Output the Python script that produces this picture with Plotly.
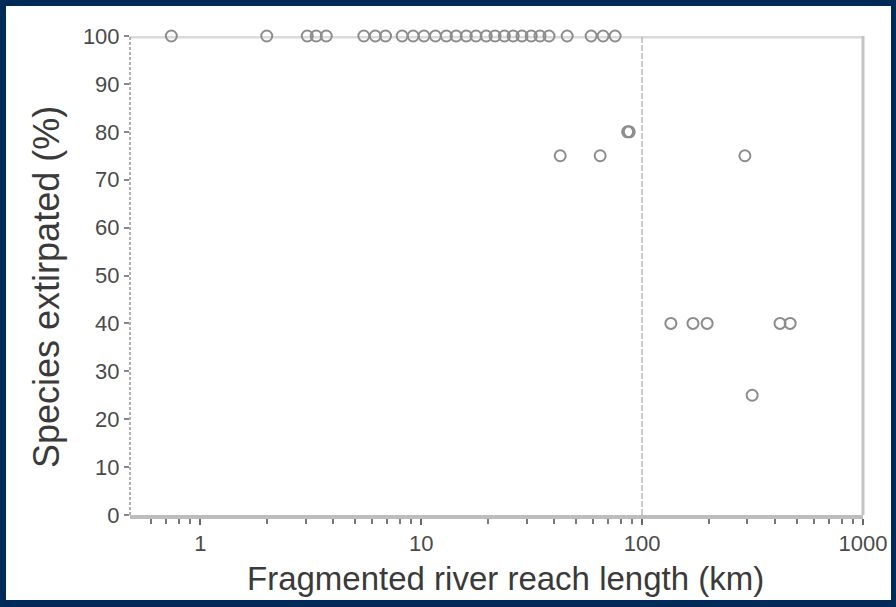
import plotly.graph_objects as go

# Data
x_full = [0.74, 2.0, 3.05, 3.35, 3.72, 5.5, 6.2, 6.9, 8.2, 9.2, 10.3, 11.6, 13.0, 14.4,
          16.0, 17.7, 19.7, 21.6, 23.8, 26.1, 28.6, 31.5, 34.5, 37.9, 45.8, 58.8, 66.6, 75.5]
y_full = [100] * len(x_full)
x_part = [42.6, 64.6, 86.0, 87.5, 292, 135, 170, 197, 421, 468, 315]
y_part = [75, 75, 80, 80, 75, 40, 40, 40, 40, 40, 25]

x_tickvals = [1, 10, 100, 1000]
x_ticktext = ["1", "10", "100", "1000"]
x_minorvals = [0.6, 0.7, 0.8, 0.9, 2, 3, 4, 5, 6, 7, 8, 9,
               20, 30, 40, 50, 60, 70, 80, 90, 200, 300, 400, 500, 600, 700, 800, 900]
y_tickvals = [0, 10, 20, 30, 40, 50, 60, 70, 80, 90, 100]
threshold_km = 100
x_title = "Fragmented river reach length (km)"
y_title = "Species extirpated (%)"

xs = x_full + x_part
ys = y_full + y_part

fig = go.Figure()
fig.add_trace(go.Scatter(
    x=xs, y=ys, mode="markers",
    marker=dict(symbol="circle-open", size=11, color="#8c8c8c", line=dict(width=2, color="#8c8c8c")),
    cliponaxis=False, showlegend=False,
))

navy = "#002a58"
pw, ph = 733.0, 479.0  # plot area size in px
shapes = [
    # white panel
    dict(type="rect", xref="paper", yref="paper",
         x0=-124 / pw, x1=1 + 28 / pw, y0=-85 / ph, y1=1 + 30 / ph,
         fillcolor="white", line=dict(width=0), layer="below"),
    # top border
    dict(type="line", xref="paper", yref="y", x0=0, x1=1, y0=100, y1=100,
         line=dict(color="#dadada", width=5), layer="below"),
    # right border
    dict(type="line", xref="paper", yref="paper", x0=1, x1=1, y0=0, y1=1,
         line=dict(color="#c4c4c4", width=3), layer="below"),
    # left axis dashed
    dict(type="line", xref="paper", yref="paper", x0=0, x1=0, y0=0, y1=1,
         line=dict(color="#b0b0b0", width=2, dash="3px,2px"), layer="below"),
    # vertical line at 100 km
    dict(type="line", xref="x", yref="paper", x0=threshold_km, x1=threshold_km, y0=0, y1=1,
         line=dict(color="#b8b8b8", width=1.5, dash="6px,2px"), layer="below"),
]

annotations = [
    dict(text=x_title, xref="paper", yref="paper", x=(505 - 130) / pw, y=(515 - 578) / ph,
         xanchor="center", yanchor="middle", showarrow=False,
         font=dict(size=33, color="#3a3a3a")),
    dict(text=y_title, xref="paper", yref="paper", x=(46 - 130) / pw, y=(515 - 287) / ph,
         xanchor="center", yanchor="middle", showarrow=False, textangle=-90,
         font=dict(size=36, color="#3a3a3a")),
]

fig.update_layout(
    width=896, height=607,
    margin=dict(l=130, r=33, t=36, b=92),
    paper_bgcolor=navy, plot_bgcolor="white",
    shapes=shapes, annotations=annotations,
    font=dict(family="Liberation Sans, Arial, sans-serif", color="#555555"),
    xaxis=dict(
        type="log", range=[-0.318, 3.0], automargin=False,
        tickvals=x_tickvals, ticktext=x_ticktext,
        ticks="outside", ticklen=6, tickwidth=1.5, tickcolor="#666666",
        minor=dict(tickmode="array", tickvals=x_minorvals, ticks="outside", ticklen=5,
                   tickwidth=1.5, tickcolor="#777777", showgrid=False),
        showline=True, linecolor="#bdbdbd", linewidth=4,
        showgrid=False, zeroline=False,
        tickfont=dict(size=22, color="#4a4a4a"),
    ),
    yaxis=dict(
        range=[0, 100], automargin=False,
        tickvals=y_tickvals,
        ticks="outside", ticklen=5, tickwidth=1.5, tickcolor="#888888",
        showline=False, showgrid=False, zeroline=False,
        tickfont=dict(size=22, color="#4a4a4a"),
    ),
)

fig.write_html("out.html")
